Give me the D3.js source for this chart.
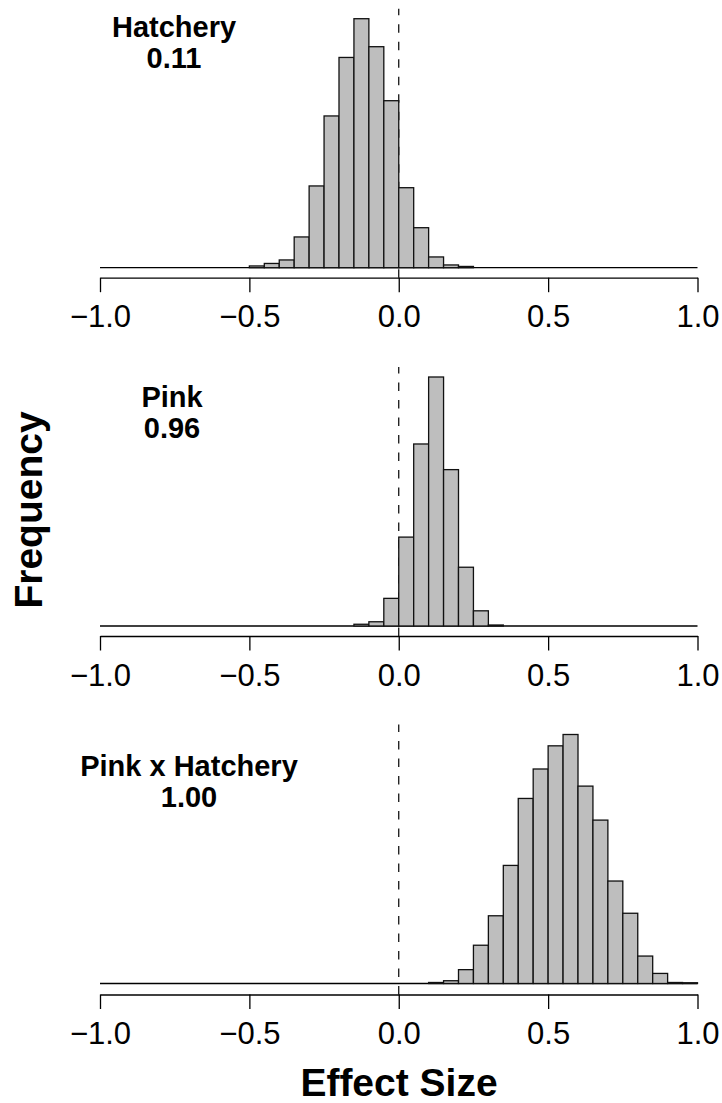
<!DOCTYPE html>
<html lang="en">

<head>
    <meta charset="utf-8" />
    <title>Effect size posterior histograms</title>
    <script src="https://d3js.org/d3.v7.min.js"></script>
    <style>
        body {
            margin: 0;
            background: #fff;
        }

        text {
            font-family: "Liberation Sans", Arial, sans-serif;
            fill: #000;
        }

        .tick text {
            font-size: 31px;
        }

        .label {
            font-size: 29px;
            font-weight: bold;
        }

        .title {
            font-size: 39px;
            font-weight: bold;
        }
    </style>
</head>

<body>
    <div id="chart"></div>
    <script>
        // histogram bins are 0.05 wide; counts
        var binWidth = 0.05;

        var hatcheryStart = -0.5;
        var hatcheryCounts = [7, 17, 31, 123, 327, 607, 841, 996, 884, 668, 320, 160, 43, 11, 5];

        var pinkStart = -0.15;
        var pinkCounts = [7, 17, 111, 357, 731, 1000, 628, 236, 61, 4];

        var interStart = 0.1;
        var interCounts = [4, 11, 55, 152, 269, 469, 735, 852, 944, 989, 784, 649, 407, 279, 109, 40, 4, 3];

        var panelNames = ['Hatchery', 'Pink', 'Pink x Hatchery'];
        var panelProbs = ['0.11', '0.96', '1.00'];

        var tickValues = [-1, -0.5, 0, 0.5, 1];
        var tickLabels = ['\u22121.0', '\u22120.5', '0.0', '0.5', '1.0'];

        (function(d3) {
            'use strict';

            var width = 722;
            var height = 1103;
            var barMax = 249; // pixel height of the tallest bar in each panel

            var panels = [
                { start: hatcheryStart, counts: hatcheryCounts, base: 267.7, axisGap: 10, labelX: 174, labelY: 37 },
                { start: pinkStart, counts: pinkCounts, base: 626, axisGap: 10, labelX: 172, labelY: 407 },
                { start: interStart, counts: interCounts, base: 983.5, axisGap: 11, labelX: 189, labelY: 776 }
            ];

            var svg = d3.select('#chart')
                .append('svg')
                .attr('width', width)
                .attr('height', height);

            svg.append('rect')
                .attr('width', width)
                .attr('height', height)
                .attr('fill', '#fff');

            var x = d3.scaleLinear()
                .domain([-1, 1])
                .range([100, 697.5]);

            panels.forEach(function(p, k) {
                var bins = p.counts.map(function(c, i) {
                    var x0 = Math.round((p.start + i * binWidth) * 1000) / 1000;
                    return { x0: x0, x1: x0 + binWidth, count: c };
                });

                var y = d3.scaleLinear()
                    .domain([0, d3.max(p.counts)])
                    .range([p.base, p.base - barMax]);

                var g = svg.append('g');

                var axisY = p.base + p.axisGap;
                var topY = p.base - barMax - 10;

                // dashed reference line at zero, drawn bottom to top, behind the bars
                g.append('line')
                    .attr('x1', x(0))
                    .attr('x2', x(0))
                    .attr('y1', axisY)
                    .attr('y2', topY)
                    .attr('stroke', '#000')
                    .attr('stroke-width', 1.2)
                    .attr('stroke-dasharray', '8.5,9');

                // zero-count bins show as a flat line across the whole range
                g.append('line')
                    .attr('x1', x(-1))
                    .attr('x2', x(1))
                    .attr('y1', y(0))
                    .attr('y2', y(0))
                    .attr('stroke', '#000')
                    .attr('stroke-width', 1.3);

                g.selectAll('rect.bar')
                    .data(bins)
                    .enter()
                    .append('rect')
                    .attr('class', 'bar')
                    .attr('x', function(d) { return x(d.x0); })
                    .attr('width', function(d) { return x(d.x1) - x(d.x0); })
                    .attr('y', function(d) { return y(d.count); })
                    .attr('height', function(d) { return y(0) - y(d.count); })
                    .attr('fill', '#bebebe')
                    .attr('stroke', '#111')
                    .attr('stroke-width', 1.3);

                var axis = d3.axisBottom(x)
                    .tickValues(tickValues)
                    .tickFormat(function(d, i) { return tickLabels[i]; })
                    .tickSize(14.5)
                    .tickSizeOuter(0);

                var ax = svg.append('g')
                    .attr('transform', 'translate(0,' + axisY + ')')
                    .call(axis);

                ax.select('.domain')
                    .attr('stroke', '#000')
                    .attr('stroke-width', 1.3);
                ax.selectAll('.tick line')
                    .attr('stroke', '#000')
                    .attr('stroke-width', 1.3);
                ax.selectAll('.tick text')
                    .attr('y', 49.7)
                    .attr('dy', 0)
                    .attr('font-size', null)
                    .attr('font-family', null)
                    .attr('fill', '#000');

                var lab = svg.append('text')
                    .attr('class', 'label')
                    .attr('text-anchor', 'middle')
                    .attr('x', p.labelX)
                    .attr('y', p.labelY);
                lab.append('tspan')
                    .attr('x', p.labelX)
                    .text(panelNames[k]);
                lab.append('tspan')
                    .attr('x', p.labelX)
                    .attr('dy', 31)
                    .text(panelProbs[k]);
            });

            svg.append('text')
                .attr('class', 'title')
                .attr('text-anchor', 'middle')
                .attr('x', 399)
                .attr('y', 1096)
                .text('Effect Size');

            svg.append('text')
                .attr('class', 'title')
                .attr('text-anchor', 'middle')
                .attr('transform', 'translate(42,510) rotate(-90)')
                .text('Frequency');
        })(window.d3);
    </script>
</body>

</html>
